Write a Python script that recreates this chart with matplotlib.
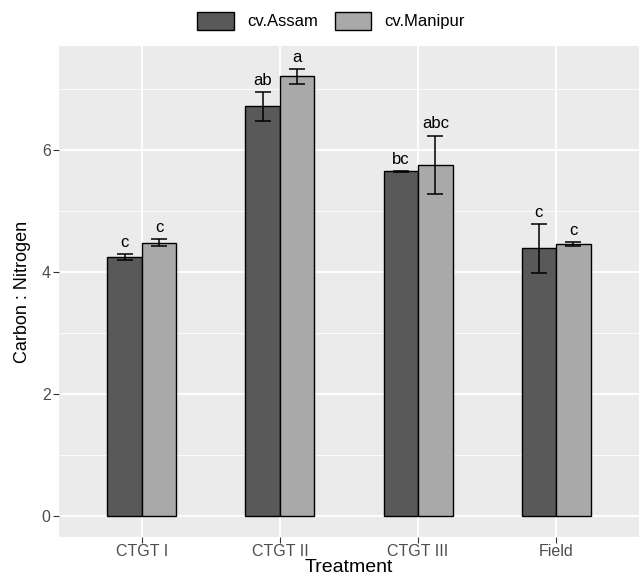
import matplotlib
matplotlib.use("Agg")
import matplotlib.pyplot as plt
from matplotlib.patches import Patch
from matplotlib.ticker import MultipleLocator
import numpy as np

plt.rcParams['font.family'] = ['Liberation Sans', 'DejaVu Sans']

# data
treatments = ["CTGT I", "CTGT II", "CTGT III", "Field"]
assam = [4.24, 6.72, 5.65, 4.39]
assam_se = [0.05, 0.24, 0.01, 0.40]
manipur = [4.48, 7.21, 5.76, 4.46]
manipur_se = [0.055, 0.12, 0.48, 0.025]
assam_letters = ["c", "ab", "bc", "c"]
manipur_letters = ["c", "a", "abc", "c"]

fig = plt.figure(figsize=(6.39, 5.8), dpi=100)
ax = fig.add_axes([59/639, 43/580, 580/639, 491/580])
ax.set_facecolor("#EBEBEB")

x = np.arange(len(treatments))
w = 0.25

# grid
ax.yaxis.set_major_locator(MultipleLocator(2))
ax.yaxis.set_minor_locator(MultipleLocator(1))
ax.grid(which="major", color="white", linewidth=1.3)
ax.grid(which="minor", axis="y", color="white", linewidth=0.6)
ax.set_axisbelow(True)

series = [
    (assam, assam_se, assam_letters, -w/2, "#595959", "cv.Assam"),
    (manipur, manipur_se, manipur_letters, w/2, "#A9A9A9", "cv.Manipur"),
]
for vals, se, letters, off, col, name in series:
    ax.bar(x + off, vals, width=w, color=col, edgecolor="black", linewidth=1.0)
    ax.errorbar(x + off, vals, yerr=se, fmt="none", ecolor="black",
                elinewidth=1.1, capsize=5.5, capthick=1.1)
    for xi, v, s, lab in zip(x + off, vals, se, letters):
        ax.annotate(lab, (xi, v + s), xytext=(0, 3), textcoords="offset points",
                    ha="center", va="bottom", fontsize=12, color="black")

ax.set_xlim(-0.6, 3.6)
ax.set_ylim(-0.35, 7.71)
ax.set_xticks(x)
ax.set_xticklabels(treatments)
ax.tick_params(axis="both", which="major", length=4, width=0.8, color="#333333",
               labelcolor="#4D4D4D", labelsize=11.5, pad=2)
ax.tick_params(axis="x", which="major", pad=1)
ax.tick_params(axis="both", which="minor", length=0)
for sp in ax.spines.values():
    sp.set_visible(False)

ax.set_xlabel("Treatment", fontsize=14, labelpad=0)
ax.set_ylabel("Carbon : Nitrogen", fontsize=13, labelpad=8)

handles = [Patch(facecolor="#595959", edgecolor="black", linewidth=1.0),
           Patch(facecolor="#A9A9A9", edgecolor="black", linewidth=1.0)]
fig.legend(handles, ["cv.Assam", "cv.Manipur"], loc="upper center",
           bbox_to_anchor=(331/639, 1.0), ncol=2, frameon=False, fontsize=12,
           handlelength=2.2, handleheight=1.3, handletextpad=0.8, columnspacing=1.0,
           borderaxespad=0.3)

fig.savefig("out.png", dpi=100)
